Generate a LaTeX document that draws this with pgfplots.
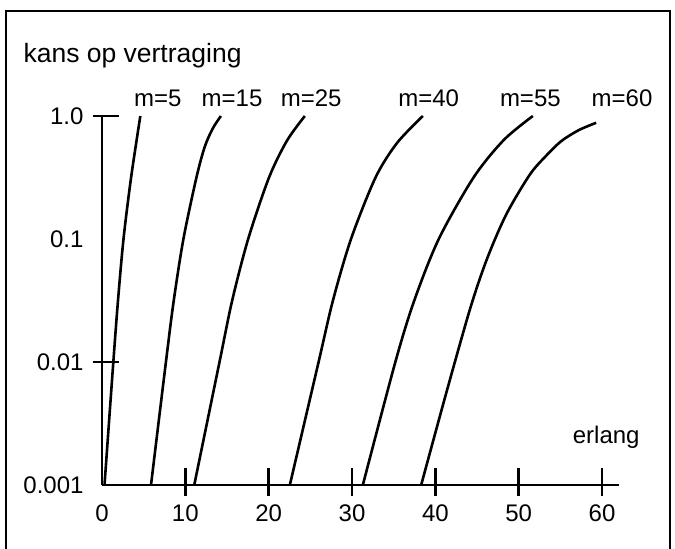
\documentclass[border=0pt]{standalone}
\usepackage{pgfplots}
\pgfplotsset{compat=1.18}
\usepackage{fontspec}
\setmainfont{Liberation Sans}
\begin{document}
\begin{tikzpicture}[font=\fontsize{24}{28}\selectfont]
\useasboundingbox (0,0) rectangle (675pt,549pt);
\draw[line width=2.4pt] (6pt,-5pt) -- (6pt,538pt) -- (670pt,538pt) -- (670pt,-5pt);
\begin{axis}[
  at={(102pt,64pt)}, anchor=south west,
  scale only axis, width=516.7pt, height=369pt,
  xmin=0, xmax=62, ymin=0.001, ymax=1, ymode=log,
  enlargelimits=false, clip=false,
  axis lines=left, axis line style={-, line width=2.8pt, black},
  xtick={0,10,20,30,40,50,60},
  xticklabels={0,10,20,30,40,50,60},
  ytick={0.001,0.01,0.1,1}, yticklabels={0.001,0.01,0.1,1.0},
  major tick length=0pt,
  xminorticks=false, yminorticks=false,
  extra x ticks={10,20,30,40,50,60}, extra x tick labels={},
  extra x tick style={major tick length=28pt, tick align=center,
     tick style={black, line width=2.4pt, yshift=3pt}},
  extra y ticks={0.01,1}, extra y tick labels={},
  extra y tick style={major tick length=26pt, tick align=center,
     tick style={black, line width=2.4pt, xshift=4pt}},
  ticklabel style={font=\fontsize{24}{28}\selectfont},
  xticklabel style={yshift=-16pt},
  yticklabel style={xshift=-15pt},
]
\addplot[black, line width=2.6pt, smooth] coordinates {
 (0.3,0.001) (1.36,0.01) (1.92,0.0316) (2.58,0.1) (3.49,0.316) (4.6,1.0)};
\addplot[black, line width=2.6pt, smooth] coordinates {
 (5.88,0.001) (7.67,0.01) (8.61,0.0316) (9.77,0.1) (11.33,0.316) (12.33,0.562) (13.3,0.794) (14.27,1.0)};
\addplot[black, line width=2.6pt, smooth] coordinates {
 (11.07,0.001) (14.1,0.01) (15.62,0.0316) (17.54,0.1) (20.04,0.316) (22.2,0.631) (24.34,1.0)};
\addplot[black, line width=2.6pt, smooth] coordinates {
 (22.54,0.001) (25.99,0.01) (27.71,0.0316) (29.88,0.1) (32.82,0.316) (35.4,0.603) (38.5,1.0)};
\addplot[black, line width=2.6pt, smooth] coordinates {
 (31.3,0.001) (35.2,0.01) (37.47,0.0316) (40.41,0.1) (44.58,0.316) (48.2,0.637) (51.7,1.0)};
\addplot[black, line width=2.6pt, smooth] coordinates {
 (38.3,0.001) (41.4,0.0059) (44.2,0.0275) (46.2,0.069) (48.5,0.158) (51.3,0.331) (53.2,0.468) (55.1,0.624) (57.2,0.767) (59.3,0.881)};
\node at (axis cs:6.7,1) [yshift=18pt] {m=5};
\node at (axis cs:15.6,1) [yshift=18pt] {m=15};
\node at (axis cs:25.1,1) [yshift=18pt] {m=25};
\node at (axis cs:39.2,1) [yshift=18pt] {m=40};
\node at (axis cs:51.4,1) [yshift=18pt] {m=55};
\node at (axis cs:62.4,1) [yshift=18pt] {m=60};
\node at (axis cs:60.5,0.00245) {erlang};
\end{axis}
\node[anchor=west, font=\fontsize{26.5}{30}\selectfont] at (20pt,493pt) {kans op vertraging};
\end{tikzpicture}
\end{document}
